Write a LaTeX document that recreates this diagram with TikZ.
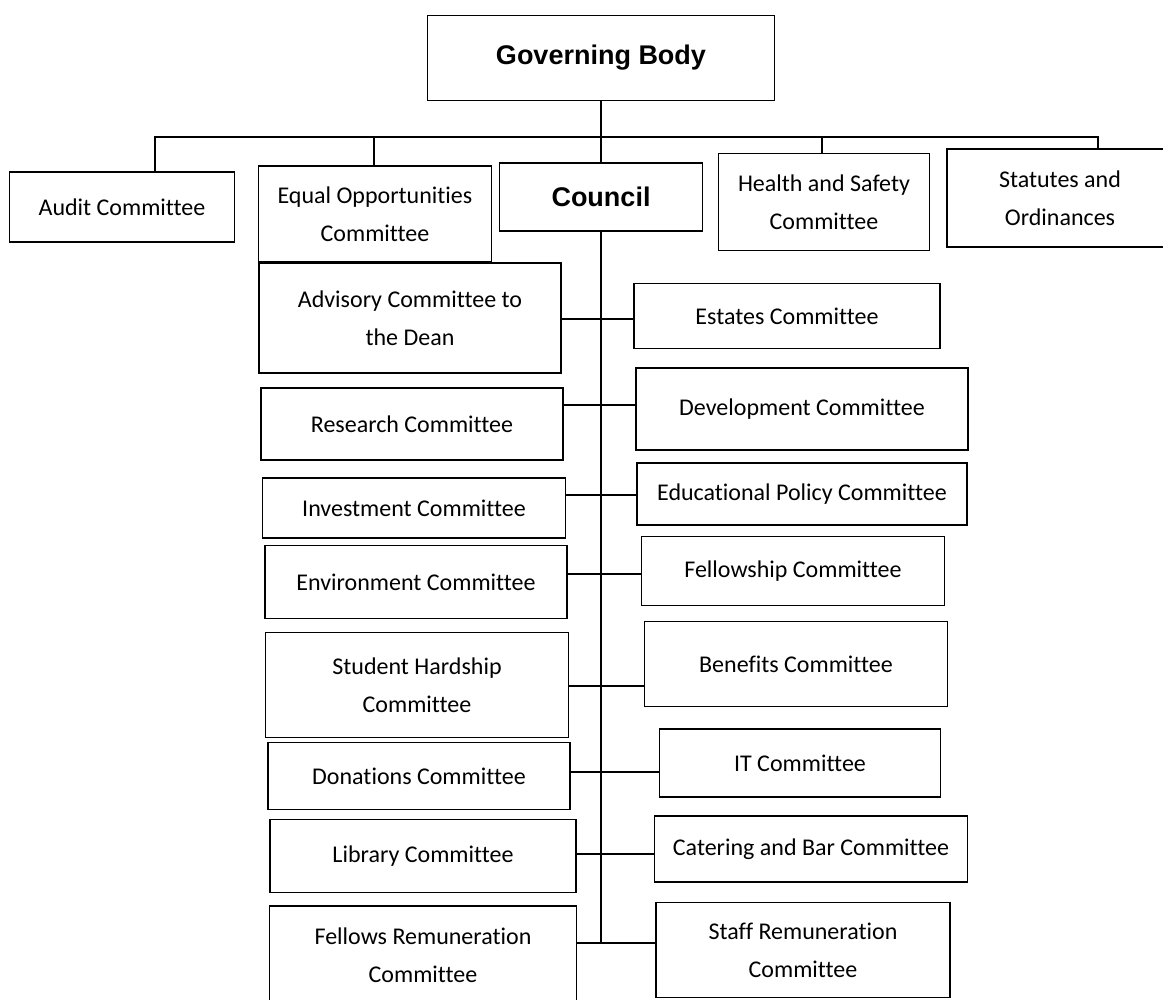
\documentclass[tikz,border=0pt]{standalone}
\usepackage{fontspec}
\newfontfamily\gill[Ligatures={NoCommon,NoContextual}]{Carlito}
\newfontfamily\arial{Liberation Sans}
\usepackage{tikz}
\newcommand{\tx}{601}

\begin{document}
\begin{tikzpicture}[x=0.5pt,y=-0.5pt,
  box/.style={draw=black,line width=0.6pt,align=center,inner sep=0pt,
    font=\gill\fontsize{12}{19}\selectfont},
  head/.style={box,font=\arial\bfseries\fontsize{13.5}{16}\selectfont}]
\clip (0,0) rectangle (1163,1000);
\fill[white] (0,0) rectangle (1163,1000);
\node[head,minimum width=173.5pt,minimum height=42.5pt] (gb) at (\tx,58) {Governing Body};
\node[head,minimum width=101.5pt,minimum height=34pt] (council) at (\tx,197) {Council};
\foreach \n/\x/\y/\bw/\bh/\txt in {
  audit/122/207/225/70/{Audit Committee},
  equal/375/214/233/96/{Equal Opportunities\\Committee},
  health/824/202/211/97/{Health and Safety\\Committee},
  statutes/1060/198/226/98/{Statutes and\\Ordinances},
  adv/410/318/302/110/{Advisory Committee to\\the Dean},
  research/412/424/302/72/{Research Committee},
  invest/414/508/303/60/{Investment Committee},
  environ/416/582/302/73/{Environment Committee},
  hardship/417/685/303/105/{Student Hardship\\Committee},
  donations/419/776/302/67/{Donations Committee},
  library/423/856/306/73/{Library Committee},
  fellowsrem/423/955/307/98/{Fellows Remuneration\\Committee},
  estates/787/316/306/65/{Estates Committee},
  develop/802/409/332/82/{Development Committee},
  educ/802/494/330/62/{Educational Policy Committee},
  fellowship/793/571/303/69/{Fellowship Committee},
  benefits/796/664/303/85/{Benefits Committee},
  it/800/763/281/68/{IT Committee},
  catering/811/849/313/66/{Catering and Bar Committee},
  staffrem/803/950/294/95/{Staff Remuneration\\Committee}}{
\node[box,minimum width={\bw*0.5pt},minimum height={\bh*0.5pt}] (\n) at (\x,\y) {\txt};
}
% bar under the governing body
\foreach \c/\x in {da/155,db/374,dd/822,de/1098}{
\coordinate (\c) at (\x,137);
}
\draw[line width=0.6pt] (da |- audit.north) -- (da) -- (de) -- (de |- statutes.north);
\draw[line width=0.6pt] (db) -- (db |- equal.north);
\draw[line width=0.6pt] (dd) -- (dd |- health.north);
\draw[line width=0.6pt] (gb) -- (council);
% trunk below the council
\foreach \i/\y in {1/319,2/405,3/495,4/574,5/686,6/772,7/854,8/943}{
\coordinate (t\i) at (\tx,\y);
}
\draw[line width=0.6pt] (council) -- (t8);
\foreach \l/\r/\i in {adv/estates/1,research/develop/2,invest/educ/3,environ/fellowship/4,
  hardship/benefits/5,donations/it/6,library/catering/7,fellowsrem/staffrem/8}{
\draw[line width=0.6pt] (\l.east |- t\i) -- (\r.west |- t\i);
}
\end{tikzpicture}
\end{document}
